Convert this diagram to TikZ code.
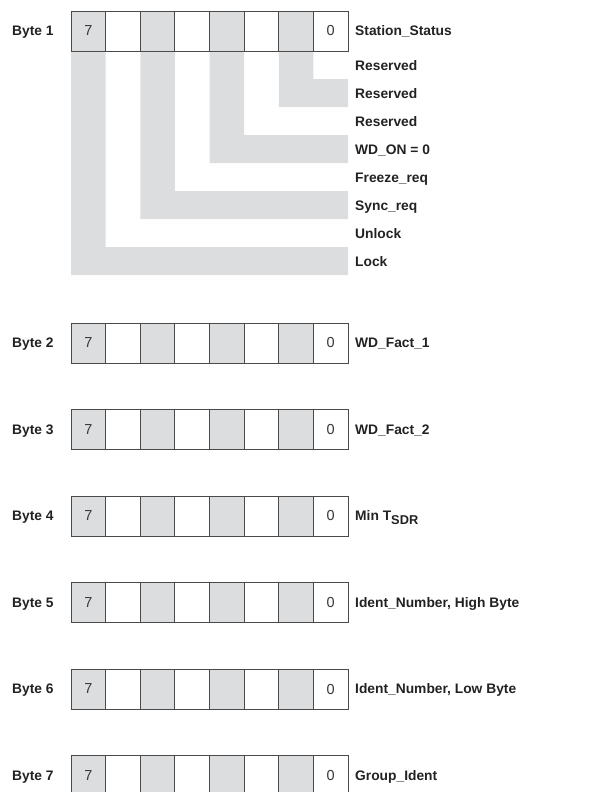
\documentclass[tikz,border=0pt]{standalone}
\usepackage{fontspec}
\setmainfont{Liberation Sans}
\definecolor{cellgrey}{HTML}{DCDDDF}
\definecolor{edgegrey}{HTML}{4A4A4A}
\definecolor{txt}{HTML}{222222}
\begin{document}
\begin{tikzpicture}[x=1pt,y=-1pt,
  cell/.style={draw=edgegrey, line width=0.9pt, minimum width=34.625pt,
    minimum height=40pt, inner sep=0pt, fill=white},
  greycell/.style={cell, fill=cellgrey},
  digit/.style={font=\fontsize{14.5}{15}\selectfont, text=txt!90, inner sep=0pt},
  lbl/.style={anchor=west, inner sep=0pt, text height=9.8pt, text depth=0pt,
    text=txt, font=\bfseries\fontsize{13.8}{14}\selectfont},
  band/.style={fill=cellgrey, draw=none}]
\useasboundingbox (0,0) rectangle (601,792);

% staircase of byte 1
\fill[band] (278.75,51) -- (313.375,51) -- (313.375,79) -- (348,79) -- (348,107) -- (278.75,107) -- cycle;
\fill[band] (209.5,51) -- (244.125,51) -- (244.125,135) -- (348,135) -- (348,163) -- (209.5,163) -- cycle;
\fill[band] (140.25,51) -- (174.875,51) -- (174.875,191) -- (348,191) -- (348,219) -- (140.25,219) -- cycle;
\fill[band] (71,51) -- (105.625,51) -- (105.625,247) -- (348,247) -- (348,275) -- (71,275) -- cycle;

% byte rows
\foreach \r/\y in {1/31,2/343,3/429.5,4/516,5/602.5,6/689,7/775.5}{
  \foreach \i in {0,2,4,6}{
    \node[greycell] (b\r-\i) at ({71+34.625*(\i+0.5)},\y) {};
  }
  \foreach \i in {1,3,5,7}{
    \node[cell] (b\r-\i) at ({71+34.625*(\i+0.5)},\y) {};
  }
  \node[digit] (d\r-7) at (b\r-0) {7};
  \node[digit] (d\r-0) at (b\r-7) {0};
  \node[lbl] (byte\r) at (12,\y) {Byte \r};
}

% labels
\node[lbl] (n1) at (355,31) {Station\_Status};
\node[lbl] (s0) at (355,66) {Reserved};
\node[lbl] (s1) at (355,94) {Reserved};
\node[lbl] (s2) at (355,122) {Reserved};
\node[lbl] (s3) at (355,150) {WD\_ON = 0};
\node[lbl] (s4) at (355,178) {Freeze\_req};
\node[lbl] (s5) at (355,206) {Sync\_req};
\node[lbl] (s6) at (355,234) {Unlock};
\node[lbl] (s7) at (355,262) {Lock};
\node[lbl] (n2) at (355,343) {WD\_Fact\_1};
\node[lbl] (n3) at (355,429.5) {WD\_Fact\_2};
\node[lbl] (n4) at (355,516) {Min T\raisebox{-4pt}{\fontsize{12.8}{13}\selectfont SDR}};
\node[lbl] (n5) at (355,602.5) {Ident\_Number, High Byte};
\node[lbl] (n6) at (355,689) {Ident\_Number, Low Byte};
\node[lbl] (n7) at (355,775.5) {Group\_Ident};
\end{tikzpicture}
\end{document}
